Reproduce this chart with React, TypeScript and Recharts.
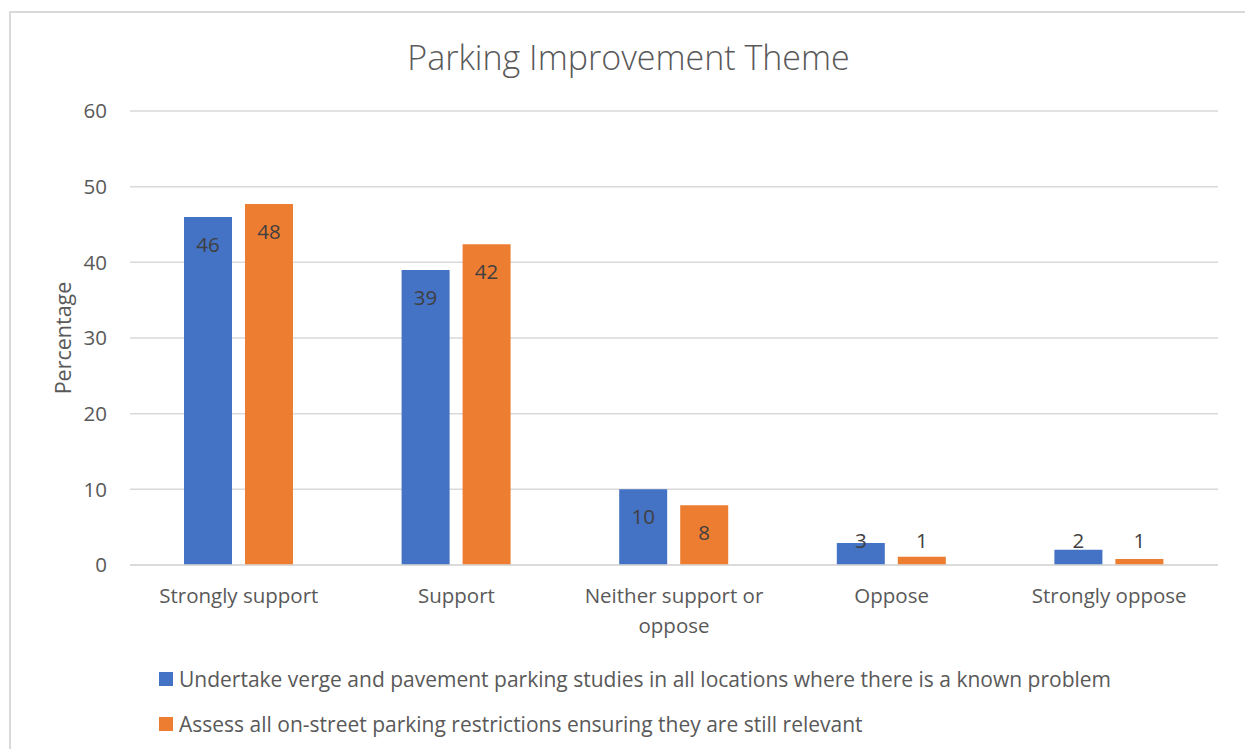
import React from 'react';
import { BarChart, Bar, XAxis, YAxis, CartesianGrid, Legend, LabelList, Text } from 'recharts';

const categories = ['Strongly support', 'Support', 'Neither support or oppose', 'Oppose', 'Strongly oppose'];
const vergeStudies = [46, 39, 10, 2.9, 2];
const assessRestrictions = [47.7, 42.4, 7.9, 1.1, 0.8];
const yTicks = [0, 10, 20, 30, 40, 50, 60];

const seriesNames = {
  verge: 'Undertake verge and pavement parking studies in all locations where there is a known problem',
  assess: 'Assess all on-street parking restrictions ensuring they are still relevant',
};

const BLUE = '#4472C4';
const ORANGE = '#ED7D31';
const FONT = '"Open Sans", sans-serif';

const data = categories.map((name, i) => ({
  name,
  verge: vergeStudies[i],
  assess: assessRestrictions[i],
}));

const XTick = (props: any) => {
  const { x, y, payload } = props;
  return (
    <Text
      x={x}
      y={y}
      width={200}
      lineHeight={30}
      textAnchor="middle"
      verticalAnchor="start"
      fill="#595959"
      fontSize={20.5}
      fontFamily={FONT}
      style={{ fontSize: '20.5px', fontFamily: FONT }}
    >
      {payload.value}
    </Text>
  );
};

// Excel "inside end" labels: below the bar top, but never lower than the axis allows
const BarValue = (props: any) => {
  const { x, y, width, height, value } = props;
  const cy = Math.min(y + 27, y + height - 25);
  return (
    <text
      x={x + width / 2}
      y={cy}
      textAnchor="middle"
      dominantBaseline="central"
      fill="#404040"
      fontSize={20.5}
      fontFamily={FONT}
    >
      {Math.round(value)}
    </text>
  );
};

const YLabel = (props: any) => {
  const { viewBox } = props;
  const cx = viewBox.x + 22;
  const cy = viewBox.y + viewBox.height / 2;
  return (
    <text
      x={cx}
      y={cy}
      transform={`rotate(-90, ${cx}, ${cy})`}
      textAnchor="middle"
      dominantBaseline="central"
      fill="#595959"
      fontSize={21.5}
      fontFamily={FONT}
    >
      Percentage
    </text>
  );
};

const LegendBox = () => {
  const rows = [
    { color: BLUE, label: seriesNames.verge, top: 22 },
    { color: ORANGE, label: seriesNames.assess, top: 67 },
  ];
  return (
    <div style={{ position: 'relative', height: 99, width: 1245 }}>
      {rows.map((r) => (
        <div
          key={r.label}
          style={{
            position: 'absolute',
            left: 159,
            top: r.top,
            height: 14,
            display: 'flex',
            alignItems: 'center',
            whiteSpace: 'nowrap',
          }}
        >
          <span style={{ width: 14, height: 14, background: r.color, display: 'inline-block' }} />
          <span
            style={{
              marginLeft: 6,
              fontSize: 21,
              lineHeight: '14px',
              color: '#595959',
              fontFamily: FONT,
            }}
          >
            {r.label}
          </span>
        </div>
      ))}
    </div>
  );
};

const App: React.FC = () => {
  return (
    <div style={{ position: 'absolute', left: 0, top: 0, width: 1245, height: 749, overflow: 'hidden', background: '#fff' }}>
      <div
        style={{
          position: 'absolute',
          left: 9,
          top: 11,
          width: 1260,
          height: 780,
          border: '2px solid #d9d9d9',
          boxSizing: 'border-box',
        }}
      />
      <div
        style={{
          position: 'absolute',
          left: 10,
          top: 32,
          width: 1237,
          textAlign: 'center',
          fontFamily: FONT,
          fontSize: 34,
          fontWeight: 300,
          lineHeight: '50px',
          color: '#595959',
        }}
      >
        Parking Improvement Theme
      </div>
      <div style={{ position: 'absolute', left: 0, top: 0 }}>
        <BarChart
          width={1245}
          height={749}
          data={data}
          margin={{ top: 111, right: 27, left: 40, bottom: 0 }}
          barSize={48}
          barGap={13}
        >
          <CartesianGrid vertical={false} stroke="#d9d9d9" strokeWidth={1.5} />
          <XAxis
            dataKey="name"
            height={85}
            axisLine={{ stroke: '#d9d9d9', strokeWidth: 1.5 }}
            tickLine={false}
            tickSize={0}
            tickMargin={23}
            interval={0}
            tick={<XTick />}
          />
          <YAxis
            width={90}
            domain={[0, 60]}
            ticks={yTicks}
            axisLine={false}
            tickLine={false}
            tickSize={0}
            tickMargin={23}
            tick={{ fill: '#595959', fontSize: 20.5, fontFamily: FONT }}
            label={<YLabel />}
          />
          <Legend
            verticalAlign="bottom"
            content={<LegendBox />}
            wrapperStyle={{ left: 0, width: 1245, height: 99 }}
          />
          <Bar dataKey="verge" name={seriesNames.verge} fill={BLUE} isAnimationActive={false}>
            <LabelList dataKey="verge" content={<BarValue />} />
          </Bar>
          <Bar dataKey="assess" name={seriesNames.assess} fill={ORANGE} isAnimationActive={false}>
            <LabelList dataKey="assess" content={<BarValue />} />
          </Bar>
        </BarChart>
      </div>
    </div>
  );
};

export default App;
